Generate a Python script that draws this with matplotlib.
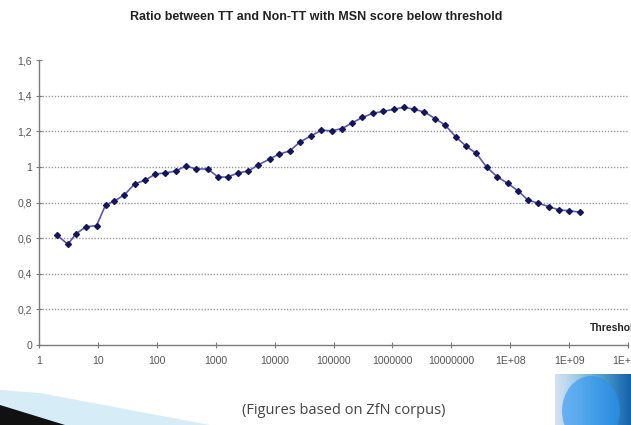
import numpy as np
import matplotlib.pyplot as plt
from matplotlib.patches import Polygon, Ellipse
from matplotlib.ticker import FixedLocator, NullLocator

# thresholds (MSN score) and TT / Non-TT ratio
threshold = [2, 3.1, 4.2, 6.3, 9.5, 13.5, 19, 28, 42, 64, 95, 140, 210, 310,
             470, 730, 1100, 1600, 2400, 3600, 5300, 8200, 12000, 18000, 27000,
             41000, 62000, 93000, 140000, 210000, 310000, 470000, 700000,
             1050000, 1580000, 2350000, 3500000, 5300000, 7900000, 11800000,
             17700000, 26500000, 40000000, 60000000, 90000000, 135000000,
             200000000, 300000000, 450000000, 680000000, 1000000000, 1550000000]
ratio = [0.618, 0.565, 0.623, 0.664, 0.670, 0.786, 0.808, 0.842, 0.904, 0.926,
         0.960, 0.966, 0.977, 1.005, 0.988, 0.988, 0.943, 0.943, 0.966, 0.977,
         1.011, 1.044, 1.072, 1.089, 1.140, 1.173, 1.205, 1.203, 1.215, 1.248,
         1.278, 1.301, 1.312, 1.323, 1.335, 1.323, 1.308, 1.271, 1.234, 1.170,
         1.117, 1.076, 0.998, 0.945, 0.908, 0.866, 0.814, 0.796, 0.777, 0.758,
         0.754, 0.745]

xticks = [1, 10, 100, 1000, 1e4, 1e5, 1e6, 1e7, 1e8, 1e9, 1e10]
xticklabels = ["1", "10", "100", "1000", "10000", "100000", "1000000",
               "10000000", "1E+08", "1E+09", "1E+10"]
yticks = [0, 0.2, 0.4, 0.6, 0.8, 1.0, 1.2, 1.4, 1.6]
yticklabels = ["0", "0,2", "0,4", "0,6", "0,8", "1", "1,2", "1,4", "1,6"]

W, H = 631, 425
fig = plt.figure(figsize=(W / 100, H / 100), dpi=100)
fig.patch.set_facecolor('white')

ax = fig.add_axes([39 / W, 1 - 345 / H, (628 - 39) / W, (345 - 60) / H])
ax.set_xscale('log')
ax.set_xlim(1, 1e10)
ax.set_ylim(0, 1.6)

for y in yticks[1:-1]:
    ax.axhline(y, color='#9a9a9a', lw=1.0, ls=(0, (1, 1.2)), zorder=1)

ax.plot(threshold, ratio, color='#5858b8', lw=1.2, marker='D', ms=3.0,
        mfc='#15155e', mec='#15155e', zorder=3)

ax.xaxis.set_major_locator(FixedLocator(xticks))
ax.xaxis.set_minor_locator(NullLocator())
ax.set_xticklabels(xticklabels)
ax.set_yticks(yticks)
ax.set_yticklabels(yticklabels)

for s in ['top', 'right']:
    ax.spines[s].set_visible(False)
for s in ['left', 'bottom']:
    ax.spines[s].set_color('#7a7a7a')
    ax.spines[s].set_linewidth(1.0)
ax.tick_params(axis='both', direction='inout', length=4, width=0.8,
               color='#7a7a7a', labelcolor='#555555', labelsize=7.6)
ax.tick_params(axis='x', pad=6)
ax.tick_params(axis='y', pad=3)
for lab in ax.get_xticklabels() + ax.get_yticklabels():
    lab.set_fontfamily('Liberation Sans')
ax.patch.set_alpha(0)

fig.text(316 / W, 1 - 17 / H,
         "Ratio between TT and Non-TT with MSN score below threshold",
         ha='center', va='center', fontsize=9.0, fontweight='bold',
         family='Liberation Sans', color='#222222')
fig.text(590 / W, 1 - 328 / H, "Threshold", ha='left', va='center',
         fontsize=7.5, fontweight='bold', family='Liberation Sans',
         color='#222222')
fig.text(344 / W, 1 - 411 / H, "(Figures based on ZfN corpus)",
         ha='center', va='center', fontsize=10.5, family='Open Sans',
         color='#444444')

# slide decorations
fig.add_artist(Polygon([(0, 1 - 390 / H), (40 / W, 1 - 393 / H),
                        (210 / W, 0), (0, 0)], closed=True,
                       transform=fig.transFigure, facecolor='#d6ecf7',
                       edgecolor='none', zorder=0))
fig.add_artist(Polygon([(0, 1 - 405 / H), (65 / W, 0), (0, 0)], closed=True,
                       transform=fig.transFigure, facecolor='#111111',
                       edgecolor='none', zorder=1))

dax = fig.add_axes([555 / W, 0, 76 / W, 51 / H])
dax.set_xlim(0, 76)
dax.set_ylim(0, 51)
dax.axis('off')
grad = np.linspace(0, 1, 200)[None, :]
dax.imshow(grad, extent=[0, 76, 0, 51], aspect='auto', cmap='Blues',
           vmin=-0.3, vmax=1.3, zorder=0)
dax.add_patch(Ellipse((36, 14), 58, 70, facecolor='#2a95f5',
                      edgecolor='none', alpha=0.6, zorder=1))

fig.savefig('out.png', dpi=100)
